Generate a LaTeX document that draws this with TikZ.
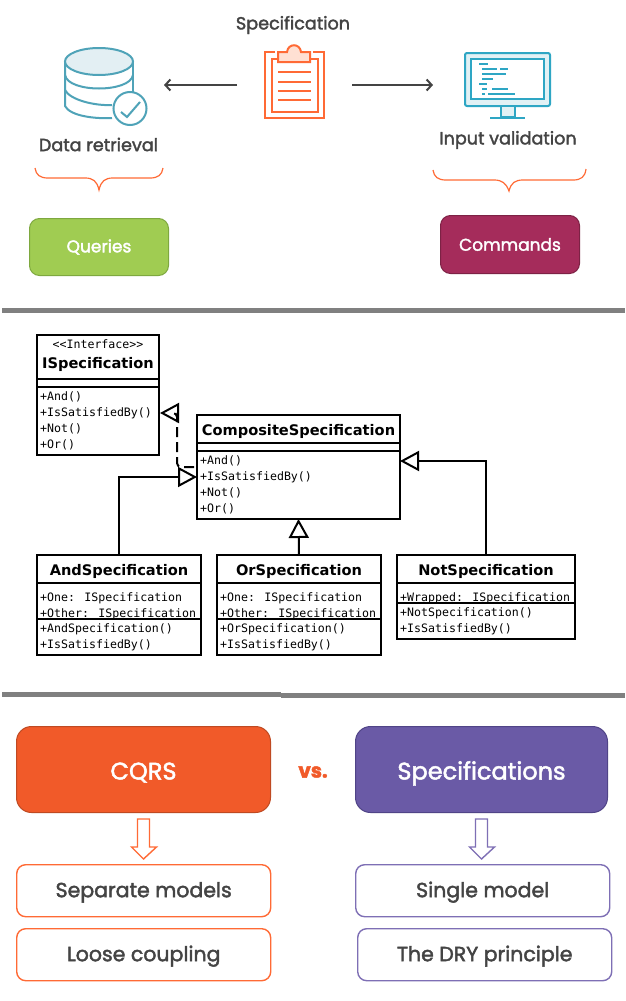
\documentclass[tikz,border=0pt]{standalone}
\usepackage{fontspec}
\usepackage{amsmath}
\usetikzlibrary{arrows.meta,positioning}
\newfontfamily\slidefont[FakeBold=2]{Poppins}
\newfontfamily\umlfont{DejaVu Sans}
\newfontfamily\umlmono{DejaVu Sans Mono}
\definecolor{dbteal}{HTML}{4FA3B8}
\definecolor{dbpale}{HTML}{E3EFF3}
\definecolor{monteal}{HTML}{2EA6C4}
\definecolor{monpale}{HTML}{E1F1F5}
\definecolor{slideorange}{HTML}{FF6A35}
\definecolor{clippale}{HTML}{FFE0D3}
\definecolor{slidetext}{HTML}{444444}
\definecolor{sepgray}{HTML}{808080}
\definecolor{cqrsfill}{HTML}{F15A29}
\definecolor{cqrsedge}{HTML}{BF4A22}
\definecolor{specfill}{HTML}{6A5AA6}
\definecolor{specedge}{HTML}{504487}
\definecolor{specline}{HTML}{7E6FB5}
\definecolor{queryfill}{HTML}{A0CC52}
\definecolor{queryedge}{HTML}{7EA83F}
\definecolor{commandfill}{HTML}{A52C5B}
\definecolor{commandedge}{HTML}{7D2245}
\tikzset{
  iconspot/.style={minimum height=10pt,inner sep=0pt,outer sep=0pt},
  slidearrow/.style={line width=2pt,color=slidetext,-{Straight Barb[length=5pt,width=11pt]}},
  slidelabel/.style={text=slidetext,font=\slidefont\fontsize{17.6}{20}\selectfont},
  slidebox/.style={anchor=north west,rounded corners=10pt,line width=1pt,inner sep=0pt,text=white,font=\slidefont\fontsize{17}{20}\selectfont},
  bigbox/.style={anchor=north west,rounded corners=15pt,line width=1pt,inner sep=0pt,minimum height=86pt,text height=20pt,text depth=0pt,text=white,font=\slidefont\fontsize{24}{28}\selectfont},
  pointbox/.style={anchor=north west,rounded corners=9pt,line width=1.4pt,inner sep=0pt,minimum width=254pt,minimum height=52pt,text height=13pt,text depth=0pt,text=slidetext,font=\slidefont\fontsize{20.5}{24}\selectfont},
  blockarrow/.style={fill=white,line width=1.4pt},
  umlbox/.style={draw,line width=2pt,anchor=north west,inner sep=0pt,outer sep=0pt},
  umlline/.style={line width=2pt},
  umltitle/.style={font=\umlfont\bfseries\fontsize{14.6}{17}\selectfont,inner sep=0pt},
  umltext/.style={anchor=north west,align=left,inner sep=0pt,font=\umlmono\fontsize{11.6}{16}\selectfont},
  umlhollow/.style={-{Triangle[open,length=19pt,width=20pt]},line width=2pt}
}
\begin{document}
\begin{tikzpicture}[x=1pt,y=-1pt]
\useasboundingbox (0,0) rectangle (625,1001);
\fill[white] (0,0) rectangle (625,1001);
% top part
\node[slidelabel] (spectitle) at (293,25) {Specification};
\node[iconspot,minimum width=115pt] (clipicon) at (294.5,85) {};
\node[iconspot,minimum width=130pt] (dbicon) at (99,85) {};
\node[iconspot,minimum width=148pt] (monicon) at (507,85) {};
\draw[slidearrow] (clipicon.west) -- (dbicon.east);
\draw[slidearrow] (clipicon.east) -- (monicon.west);
% database
\draw[color=dbteal,line width=2pt] (65,61)--(65,106) .. controls (70,116) and (95,119) .. (112,118);
\draw[color=dbteal,line width=2pt] (133,61)--(133,92);
\draw[color=dbteal,line width=2pt] (65,75) .. controls (68,93) and (130,93) .. (133,75);
\draw[color=dbteal,line width=2pt] (65,90) .. controls (70,100) and (95,106) .. (112,105);
\draw[color=dbteal,fill=dbpale,line width=2pt] (99,61.5) ellipse[x radius=34,y radius=13.5];
\draw[color=dbteal,fill=white,line width=2pt] (130,108.5) circle[radius=16.5];
\draw[color=dbteal,line width=2pt] (121,112)--(127,117)--(140,102);
% clipboard
\draw[color=slideorange,line width=2pt] (275,52)--(265,52)--(265,118)--(324,118)--(324,52)--(313,52);
\draw[color=slideorange,line width=2pt] (278,59)--(272,59)--(272,112)--(318,112)--(318,59)--(310,59);
\draw[color=slideorange,fill=clippale,line width=2pt] (278,62)--(278,52)--(287,52) .. controls (288,43) and (300,43) .. (301,52)--(310,52)--(310,62)--cycle;
\draw[color=slideorange,line width=1.5pt] (278,72)--(311,72) (278,82)--(311,82) (278,91)--(311,91) (278,100)--(311,100);
% monitor
\draw[color=monteal,fill=monpale,line width=2pt,rounded corners=2pt] (465,53) rectangle (550,106);
\draw[color=monteal,fill=white,line width=2pt] (471,59) rectangle (544,99);
\draw[color=monteal,fill=monpale,line width=2pt] (501,106) rectangle (515,117);
\draw[color=monteal,line width=2pt] (490,117.5)--(525,117.5);
\draw[color=monteal,line width=1.6pt] (479,64)--(488,64) (482,69)--(497,69) (500,69)--(508,69)
  (482,74)--(506,74) (482,79)--(493,79) (479,84)--(487,84) (482,89)--(487,89) (492,89)--(508,89)
  (482,94)--(485,94) (488,94)--(515,94);
\node[slidelabel] (dbtext) at (98.5,144.5) {Data retrieval};
\node[slidelabel] (montext) at (508,140) {Input validation};
\draw[color=slideorange,line width=1.2pt] (35,168) .. controls (36,175) and (40,178) .. (48,178)--(85,178)
  .. controls (93,178) and (97,181) .. (99,190) .. controls (101,181) and (105,178) .. (113,178)--(150,178)
  .. controls (158,178) and (162,175) .. (163,168);
\draw[color=slideorange,line width=1.2pt] (433,170) .. controls (434,177) and (438,180) .. (446,180)--(494,180)
  .. controls (502,180) and (506,183) .. (509,191) .. controls (511,183) and (515,180) .. (523,180)--(573,180)
  .. controls (581,180) and (585,177) .. (586,169);
\node[slidebox,draw=queryedge,fill=queryfill,minimum width=139pt,minimum height=57pt] (queries) at (29,218) {Queries};
\node[slidebox,draw=commandedge,fill=commandfill,minimum width=139pt,minimum height=58pt] (commands) at (440,215) {Commands};
\fill[sepgray] (2,308) rectangle (625,313);
% uml part
\node[umlbox,minimum width=122pt,minimum height=120pt] (ispec) at (37,335) {};
\node[font=\umlmono\fontsize{11.6}{14}\selectfont,inner sep=0pt] (ispecstereo) at (98,344) {<<Interface>>};
\node[umltitle] (ispectitle) at (98,364) {ISpecification};
\draw[umlline] (ispec.west |- 0,379)--(ispec.east |- 0,379);
\draw[umlline] (ispec.west |- 0,387)--(ispec.east |- 0,387);
\node[umltext] (ispecops) at (40,391.5) {+And()\\+IsSatisfiedBy()\\+Not()\\+Or()};
\node[umlbox,minimum width=203pt,minimum height=104pt] (comp) at (197,415) {};
\node[umltitle] (comptitle) at (298.5,431) {CompositeSpecification};
\draw[umlline] (comp.west |- 0,443)--(comp.east |- 0,443);
\draw[umlline] (comp.west |- 0,451)--(comp.east |- 0,451);
\node[umltext] (compops) at (200,455.5) {+And()\\+IsSatisfiedBy()\\+Not()\\+Or()};
\node[umlbox,minimum width=164pt,minimum height=100pt] (andspec) at (37,555) {};
\node[umltitle] (andtitle) at (119,571) {AndSpecification};
\draw[umlline] (andspec.west |- 0,583)--(andspec.east |- 0,583);
\draw[umlline] (andspec.west |- 0,619)--(andspec.east |- 0,619);
\node[umltext] (andattr) at (40,592.5) {+One: ISpecification\\+Other: ISpecification};
\node[umltext] (andops) at (40,623.5) {+AndSpecification()\\+IsSatisfiedBy()};
\node[umlbox,minimum width=164pt,minimum height=100pt] (orspec) at (217,555) {};
\node[umltitle] (ortitle) at (299,571) {OrSpecification};
\draw[umlline] (orspec.west |- 0,583)--(orspec.east |- 0,583);
\draw[umlline] (orspec.west |- 0,619)--(orspec.east |- 0,619);
\node[umltext] (orattr) at (220,592.5) {+One: ISpecification\\+Other: ISpecification};
\node[umltext] (orops) at (220,623.5) {+OrSpecification()\\+IsSatisfiedBy()};
\node[umlbox,minimum width=178pt,minimum height=84pt] (notspec) at (397,555) {};
\node[umltitle] (nottitle) at (486,571) {NotSpecification};
\draw[umlline] (notspec.west |- 0,583)--(notspec.east |- 0,583);
\draw[umlline] (notspec.west |- 0,603)--(notspec.east |- 0,603);
\node[umltext] (notattr) at (400,592.5) {+Wrapped: ISpecification};
\node[umltext] (notops) at (400,607.5) {+NotSpecification()\\+IsSatisfiedBy()};
\draw[umlhollow,dash pattern=on 10pt off 5pt,dash phase=12pt,rounded corners=4pt] (comp.west) -- ++(-20,0) |- ([yshift=-18pt,xshift=1pt]ispec.east);
\draw[umlhollow] (andspec.north) |- ([yshift=-10pt]comp.west);
\draw[umlhollow] (orspec.north) -- (comp.south);
\draw[umlhollow] (notspec.north) |- ([yshift=6pt]comp.east);
\fill[sepgray] (2,692) rectangle (281,697);
\fill[sepgray] (281,693) rectangle (625,698);
% bottom part
\node[bigbox,draw=cqrsedge,fill=cqrsfill,minimum width=254pt] (cqrs) at (16,726) {CQRS};
\node[bigbox,draw=specedge,fill=specfill,minimum width=252pt] (specs) at (355,726) {Specifications};
\node[text=cqrsfill,font=\slidefont\bfseries\fontsize{20}{24}\selectfont] (versus) at (313,772) {vs.};
\node[pointbox,draw=slideorange] (separate) at (16,864) {Separate models};
\node[pointbox,draw=slideorange] (loose) at (16,928) {Loose coupling};
\node[pointbox,draw=specline] (single) at (355,864) {Single model};
\node[pointbox,draw=specline] (dry) at (357,928) {The DRY principle};
\draw[blockarrow,draw=slideorange] ([xshift=-6pt,yshift=-6pt]cqrs.south) -- ++(12,0) -- ++(0,28) -- ++(7,0) -- ++(-13,12) -- ++(-12,-12) -- ++(6,0) -- cycle;
\draw[blockarrow,draw=specline] ([xshift=-6pt,yshift=-6pt]specs.south) -- ++(12,0) -- ++(0,28) -- ++(7,0) -- ++(-13,12) -- ++(-12,-12) -- ++(6,0) -- cycle;
\end{tikzpicture}
\end{document}
